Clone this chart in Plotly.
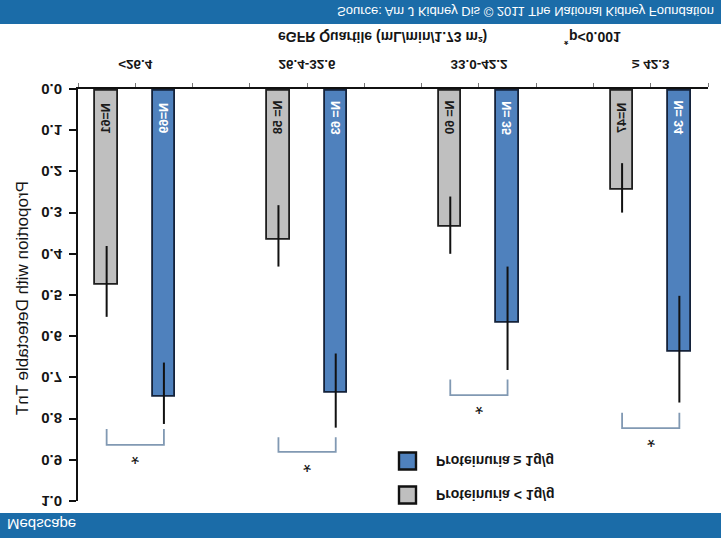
import plotly.graph_objects as go

# ---------------- data ----------------
categories = ["<26.4", "26.4-32.6", "33.0-42.2", "≥ 42.3"]
series_names = ["Proteinuria < 1g/g", "Proteinuria ≥ 1g/g"]

low_values = [0.472, 0.361, 0.330, 0.241]
low_err_lo = [0.381, 0.282, 0.261, 0.180]
low_err_hi = [0.553, 0.431, 0.400, 0.300]
low_n = ["N=61", "N= 58", "N= 60", "N=47"]

high_values = [0.743, 0.732, 0.563, 0.633]
high_err_lo = [0.664, 0.642, 0.431, 0.502]
high_err_hi = [0.813, 0.822, 0.682, 0.761]
high_n = ["N=69", "N= 63", "N= 35", "N= 34"]

bracket_leg = [0.825, 0.845, 0.705, 0.786]
bracket_bar = [0.864, 0.881, 0.743, 0.823]
star_y = [0.895, 0.915, 0.773, 0.854]

y_tick_vals = [0.0, 0.1, 0.2, 0.3, 0.4, 0.5, 0.6, 0.7, 0.8, 0.9, 1.0]
y_tick_text = ["0.0", "0.1", "0.2", "0.3", "0.4", "0.5", "0.6", "0.7", "0.8", "0.9", "1.0"]

x_title = "eGFR Quartile (mL/min/1.73 m²)"
p_star = "*"
p_note = "p&lt;0.001"
y_title = "Proportion with Detectable TnT"
source_text = "Source: Am J Kidney Dis © 2011 The National Kidney Foundation"
brand_text = "Medscape"

# ---------------- layout helpers ----------------
W, H = 721, 538
ML, MR, MT, MB = 78, 13, 37, 89
PW = W - ML - MR
PH = H - MT - MB


def px(x):
    return (x - ML) / PW


def py(y_page):
    # the whole figure is mirrored vertically on the page;
    # y_page is measured from the top of the page
    return (y_page - MB) / PH


cat_pos = [1 + 3 * i for i in range(len(categories))]
low_x = [c - 0.5 for c in cat_pos]
high_x = [c + 0.5 for c in cat_pos]

GRAY = "#bfbfbf"
BLUE = "#4f81bd"
BRAND = "#1b6ca8"
BRACKET = "#8199b3"
INK = "#151515"
FONT = "Liberation Sans, Arial, sans-serif"

fig = go.Figure()
fig.add_trace(go.Bar(
    x=low_x, y=low_values, width=0.39, name=series_names[0],
    marker=dict(color=GRAY, line=dict(color="#1e1e1e", width=1.8)),
    error_y=dict(type="data", symmetric=False,
                 array=[h - v for h, v in zip(low_err_hi, low_values)],
                 arrayminus=[v - l for v, l in zip(low_values, low_err_lo)],
                 width=0, thickness=2, color="#111111"),
    showlegend=False))
fig.add_trace(go.Bar(
    x=high_x, y=high_values, width=0.39, name=series_names[1],
    marker=dict(color=BLUE, line=dict(color="#14223a", width=1.8)),
    error_y=dict(type="data", symmetric=False,
                 array=[h - v for h, v in zip(high_err_hi, high_values)],
                 arrayminus=[v - l for v, l in zip(high_values, high_err_lo)],
                 width=0, thickness=2, color="#111111"),
    showlegend=False))

shapes = []
annotations = []

# significance brackets + stars
for c, lg, br, sy in zip(cat_pos, bracket_leg, bracket_bar, star_y):
    xs = [c - 0.5, c + 0.5]
    shapes.append(dict(type="path", xref="x", yref="y",
                       path=f"M {xs[0]},{lg} L {xs[0]},{br} L {xs[1]},{br} L {xs[1]},{lg}",
                       line=dict(color=BRACKET, width=1.8)))
    annotations.append(dict(x=c, y=sy, xref="x", yref="y", text="*", showarrow=False,
                            font=dict(size=21, color=INK, family=FONT),
                            xanchor="center", yanchor="middle"))

# N labels inside bars
for xs, labels, col in ((low_x, low_n, "#1a1a1a"), (high_x, high_n, "#ffffff")):
    for x, t in zip(xs, labels):
        annotations.append(dict(x=x, y=0.07, xref="x", yref="y", text=t,
                                textangle=-90, showarrow=False,
                                font=dict(size=12.5, color=col, family=FONT, weight="bold"),
                                xanchor="center", yanchor="middle"))

# brand bands (top & bottom of the page)
shapes.append(dict(type="rect", xref="paper", yref="paper", layer="above",
                   x0=px(-2), x1=px(W + 2), y0=py(-2), y1=py(24),
                   fillcolor=BRAND, line=dict(width=0)))
shapes.append(dict(type="rect", xref="paper", yref="paper", layer="above",
                   x0=px(-2), x1=px(W + 2), y0=py(513), y1=py(H + 2),
                   fillcolor=BRAND, line=dict(width=0)))
annotations.append(dict(x=px(716), y=py(12), xref="paper", yref="paper",
                        text=source_text, showarrow=False, xanchor="right", yanchor="middle",
                        font=dict(size=13, color="white", family=FONT)))
annotations.append(dict(x=px(5), y=py(525), xref="paper", yref="paper",
                        text=brand_text, showarrow=False, xanchor="left", yanchor="middle",
                        font=dict(size=15, color="white", family=FONT)))

# x title and p note
annotations.append(dict(x=px(382), y=py(37), xref="paper", yref="paper",
                        text=x_title, showarrow=False, xanchor="center", yanchor="middle",
                        font=dict(size=14, color=INK, family=FONT, weight="bold")))
annotations.append(dict(x=px(571), y=py(41), xref="paper", yref="paper",
                        text=p_star, showarrow=False, xanchor="right", yanchor="middle",
                        font=dict(size=11, color=INK, family=FONT, weight="bold")))
annotations.append(dict(x=px(567), y=py(37), xref="paper", yref="paper",
                        text=p_note, showarrow=False, xanchor="left", yanchor="middle",
                        font=dict(size=14, color=INK, family=FONT, weight="bold")))

# y title
annotations.append(dict(x=px(22), y=py(298), xref="paper", yref="paper",
                        text=y_title, textangle=-90, showarrow=False,
                        xanchor="center", yanchor="middle",
                        font=dict(size=17, color=INK, family=FONT)))

# legend (drawn manually to match the original boxed swatches)
legend_rows = [(series_names[1], BLUE, 461), (series_names[0], GRAY, 495)]
for name, col, yc in legend_rows:
    shapes.append(dict(type="rect", xref="paper", yref="paper",
                       x0=px(399), x1=px(416), y0=py(yc - 8.5), y1=py(yc + 8.5),
                       fillcolor=col, line=dict(color="#111111", width=2.4)))
    annotations.append(dict(x=px(434), y=py(yc), xref="paper", yref="paper",
                            text=name, showarrow=False, xanchor="left", yanchor="middle",
                            font=dict(size=14, color=INK, family=FONT, weight="bold")))

fig.update_layout(
    width=W, height=H,
    margin=dict(l=ML, r=MR, t=MT, b=MB, pad=0),
    paper_bgcolor="white", plot_bgcolor="white",
    font=dict(family=FONT, color=INK),
    barmode="overlay", bargap=0,
    shapes=shapes, annotations=annotations,
    xaxis=dict(range=[0, 11], tickvals=cat_pos, ticktext=categories,
               showgrid=False, zeroline=False, showline=True, linecolor="#111111", linewidth=2,
               ticks="outside", ticklen=4, tickwidth=1.2, tickcolor="#777777",
               minor=dict(tick0=0, dtick=1, ticks="outside", ticklen=4, tickwidth=1.2,
                          tickcolor="#777777", showgrid=False),
               ticklabelstandoff=7,
               tickfont=dict(size=13.5, color=INK, family=FONT, weight="bold")),
    yaxis=dict(range=[0, 1], tickvals=y_tick_vals, ticktext=y_tick_text,
               showgrid=False, zeroline=False, showline=True, linecolor="#111111", linewidth=2,
               ticks="outside", ticklen=7, tickwidth=2, tickcolor="#111111",
               ticklabelstandoff=4,
               tickfont=dict(size=15, color=INK, family=FONT, weight="bold")),
)

post = ("var d=document.getElementById('{plot_id}');"
        "d.style.transform='scaleY(-1)';"
        "document.body.style.margin='0';")
fig.write_html("out.html", post_script=post)
